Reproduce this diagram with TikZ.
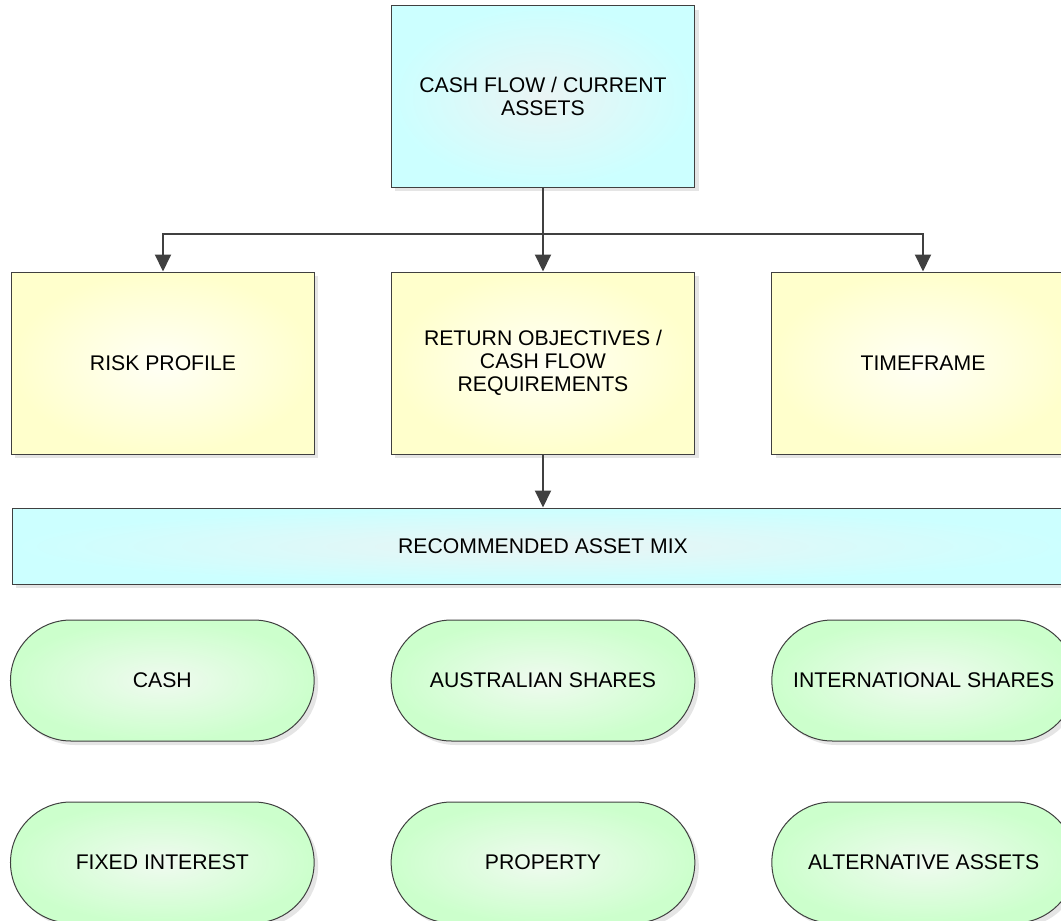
\documentclass[tikz,border=0pt]{standalone}
\usepackage{fontspec}
\setmainfont{Liberation Sans}
\usepackage{xcolor}
\usepackage{tikz}
\usetikzlibrary{arrows.meta, positioning, shapes.misc, shadows}

\definecolor{edgegray}{RGB}{64,64,64}
\definecolor{cyanout}{RGB}{204,255,255}
\definecolor{cyanin}{RGB}{234,244,244}
\definecolor{yellowout}{RGB}{255,255,204}
\definecolor{yellowin}{RGB}{255,255,246}
\definecolor{greenout}{RGB}{204,255,204}
\definecolor{greenin}{RGB}{240,250,240}

\begin{document}
\begin{tikzpicture}[
  node distance=42pt and 38pt,
  every node/.style={font=\fontsize{10.6}{11.5}\selectfont},
  shade/.style={drop shadow={opacity=1, fill=black!10, shadow xshift=2pt, shadow yshift=-2pt}},
  block/.style={draw=edgegray, line width=0.5pt, minimum width=151.5pt, minimum height=91pt, align=center, shade},
  bluebox/.style={block, inner color=cyanin, outer color=cyanout},
  yellowbox/.style={block, inner color=yellowin, outer color=yellowout},
  pill/.style={rounded rectangle, draw=edgegray, line width=0.5pt, minimum width=158.5pt, minimum height=60.5pt, inner color=greenin, outer color=greenout, shade},
  arrow/.style={-{Triangle[length=8.5pt,width=8pt]}, line width=1pt, draw=edgegray}
]
\useasboundingbox (-271.5pt,48.25pt) rectangle (259pt,-412.25pt);
\clip (-271.5pt,48.25pt) rectangle (259pt,-412.25pt);

% inputs
\node[bluebox, minimum height=90.5pt] (cash) at (0,0) {CASH FLOW / CURRENT\\ASSETS};
\node[yellowbox, below=of cash] (ret) {RETURN OBJECTIVES /\\CASH FLOW\\REQUIREMENTS};
\node[yellowbox, left=of ret] (risk) {RISK PROFILE};
\node[yellowbox, right=of ret] (time) {TIMEFRAME};

\node[bluebox, below=26.5pt of ret, minimum width=530.5pt, minimum height=38pt] (mix) {RECOMMENDED ASSET MIX};

% asset classes
\node[pill, below=17.5pt of mix] (aus) {AUSTRALIAN SHARES};
\node[pill, left=of aus] (money) {CASH};
\node[pill, right=of aus] (intl) {INTERNATIONAL SHARES};
\node[pill, below=30pt of aus] (prop) {PROPERTY};
\node[pill, left=of prop] (fixed) {FIXED INTEREST};
\node[pill, right=of prop] (alt) {ALTERNATIVE ASSETS};

\coordinate (fork) at ([yshift=-23pt]cash.south);
\draw[arrow] (cash.south) -- (ret.north);
\draw[arrow] (fork) -| (risk.north);
\draw[arrow] (fork) -| (time.north);
\draw[arrow] (ret.south) -- (ret.south |- mix.north);

\end{tikzpicture}
\end{document}
